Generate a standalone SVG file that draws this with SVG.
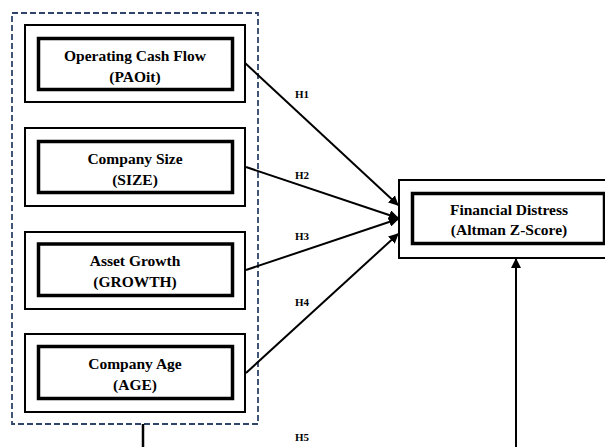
<svg xmlns="http://www.w3.org/2000/svg" width="605" height="447" viewBox="0 0 605 447">
<style>
.outer{fill:none;stroke:#000;stroke-width:2}
.inner{fill:none;stroke:#000;stroke-width:3.5}
.t{font-family:"Liberation Serif","Times New Roman",serif;font-weight:bold;font-size:15.5px;text-anchor:middle;fill:#000}
.h{font-family:"Liberation Serif","Times New Roman",serif;font-weight:bold;font-size:11px;text-anchor:middle;fill:#000}
.c{fill:none;stroke:#000;stroke-width:2}
</style>
<defs>
<marker id="arr" viewBox="0 0 10 10" refX="9" refY="5" markerWidth="5" markerHeight="5" orient="auto" markerUnits="strokeWidth">
<path d="M0,0 L10,5 L0,10 z" fill="#000"/>
</marker>
</defs>
<rect width="605" height="447" fill="#fff"/>
<g id="group-box">
<rect x="12" y="13" width="246" height="411" fill="none" stroke="#2f4468" stroke-width="1.8" stroke-dasharray="6,3"/>
</g>
<g id="node-ocf">
<rect class="outer" x="25" y="25" width="220" height="77"/>
<rect class="inner" x="38.5" y="38.5" width="194" height="51"/>
<text class="t" x="135" y="61">Operating Cash Flow</text>
<text class="t" x="135" y="82">(PAOit)</text>
</g>
<g id="node-size">
<rect class="outer" x="25" y="128" width="220" height="78"/>
<rect class="inner" x="38.5" y="141.5" width="194" height="51"/>
<text class="t" x="135" y="164">Company Size</text>
<text class="t" x="135" y="185">(SIZE)</text>
</g>
<g id="node-growth">
<rect class="outer" x="25" y="232" width="220" height="77"/>
<rect class="inner" x="38.5" y="244" width="194" height="51.5"/>
<text class="t" x="135" y="266">Asset Growth</text>
<text class="t" x="135" y="287">(GROWTH)</text>
</g>
<g id="node-age">
<rect class="outer" x="25" y="334" width="220" height="78"/>
<rect class="inner" x="38.5" y="346.5" width="194" height="52"/>
<text class="t" x="135" y="369">Company Age</text>
<text class="t" x="135" y="390">(AGE)</text>
</g>
<g id="node-fd">
<rect class="outer" x="399" y="180" width="230" height="78"/>
<rect class="inner" x="412.5" y="193.5" width="192" height="50"/>
<text class="t" x="509" y="215">Financial Distress</text>
<text class="t" x="509" y="235">(Altman Z-Score)</text>
</g>
<g id="connectors">
<line class="c" x1="245" y1="63" x2="398" y2="205" marker-end="url(#arr)"/>
<line class="c" x1="246" y1="167" x2="398" y2="218" marker-end="url(#arr)"/>
<line class="c" x1="246" y1="270" x2="398" y2="219" marker-end="url(#arr)"/>
<line class="c" x1="246" y1="373" x2="398" y2="234" marker-end="url(#arr)"/>
<line x1="143" y1="424" x2="143" y2="447" stroke="#000" stroke-width="2.5"/>
<line class="c" x1="516" y1="447" x2="516" y2="259" marker-end="url(#arr)"/>
<text class="h" x="302" y="98">H1</text>
<text class="h" x="302" y="179">H2</text>
<text class="h" x="302" y="240">H3</text>
<text class="h" x="302" y="306">H4</text>
<text class="h" x="302" y="441">H5</text>
</g>
</svg>
